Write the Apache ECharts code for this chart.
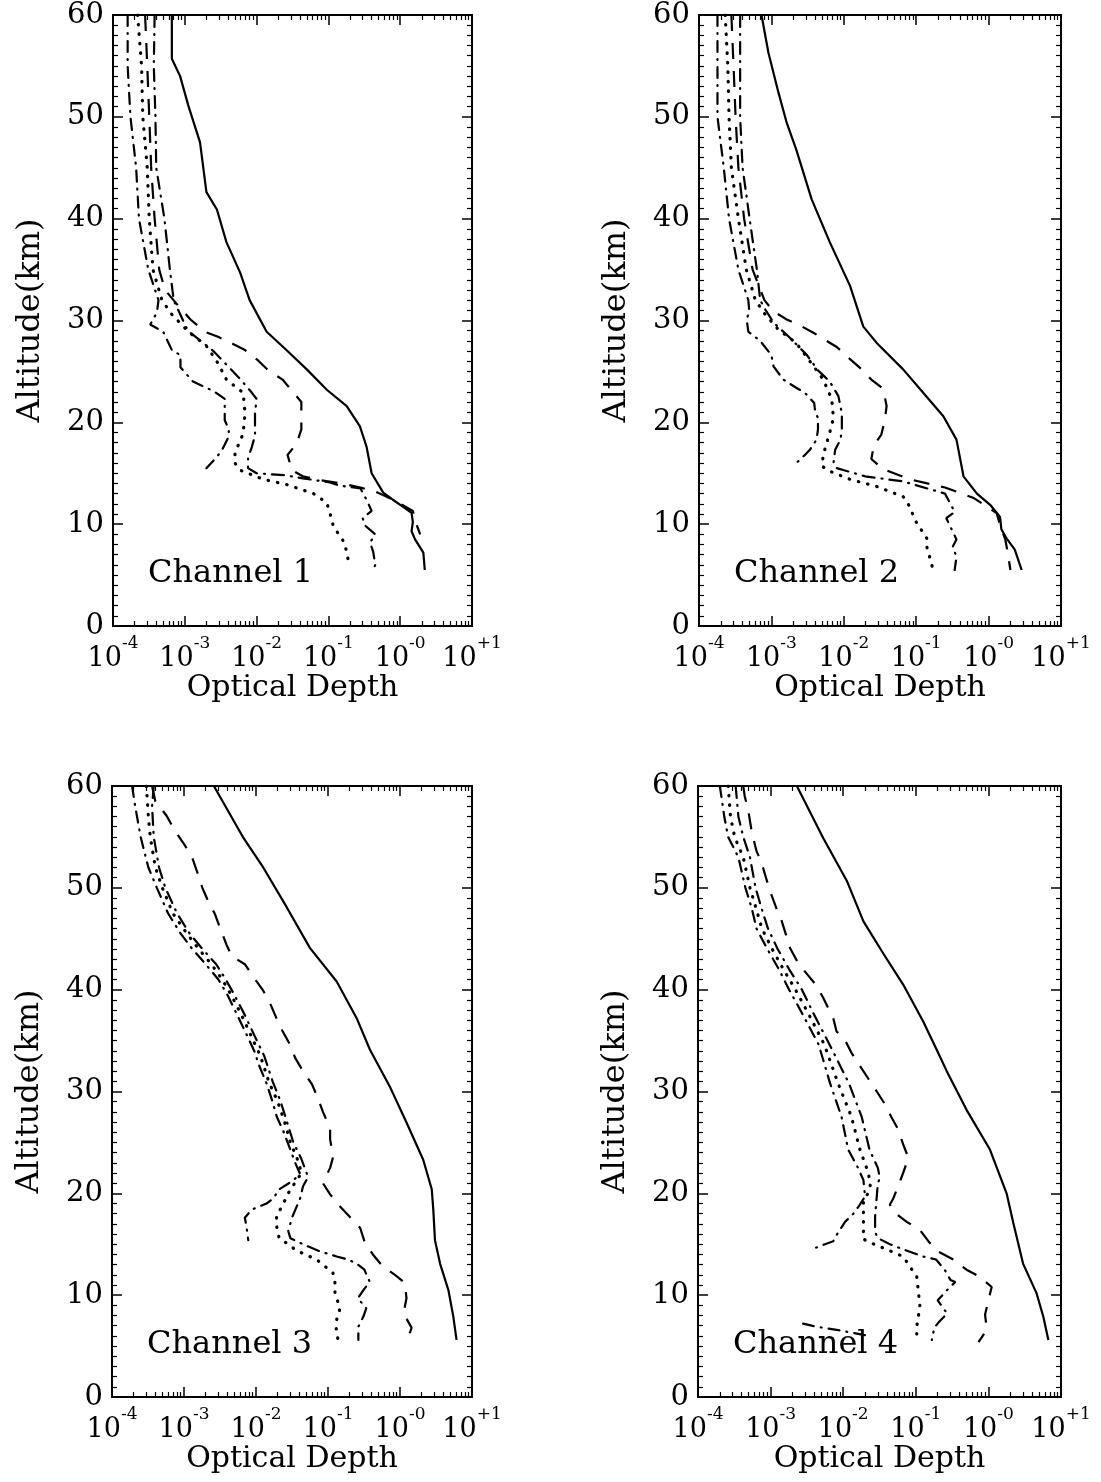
<!DOCTYPE html>
<html>
<head>
<meta charset="utf-8">
<script src="https://cdn.jsdelivr.net/npm/echarts@6/dist/echarts.min.js"></script>
<style>html,body{margin:0;padding:0;background:#fff}#c{width:1101px;height:1482px}</style>
</head>
<body>
<div id="c"></div>
<script>
// ---------------- DATA ([optical depth, altitude km]) ----------------
const channelNames = ['Channel 1', 'Channel 2', 'Channel 3', 'Channel 4'];
const xAxisTitle = 'Optical Depth';
const yAxisTitle = 'Altitude(km)';
const xTickExponents = ['-4', '-3', '-2', '-1', '-0', '+1'];

// Channel 1
const ch1_solid = [[6.6e-4,60],[6.6e-4,55.7],[8.6e-4,54],[1.12e-3,51.1],[1.63e-3,47.5],[2.0e-3,42.6],[2.8e-3,40.9],[3.8e-3,37.7],[5.9e-3,34.7],[8.0e-3,32],[1.38e-2,28.9],[2.6e-2,27.1],[5.0e-2,25.2],[9.5e-2,23.2],[0.18,21.6],[0.275,19.6],[0.34,17.6],[0.40,15],[0.58,13.1],[0.79,12.4],[1.1,11.7],[1.44,11.1],[1.5,10.2],[1.44,9.3],[1.61,8.5],[2.1,7.2],[2.2,5.5]];
const ch1_dash = [[2.8e-4,60],[3.0e-4,55],[3.2e-4,50],[3.4e-4,45],[3.8e-4,40],[4.4e-4,35],[5.3e-4,33],[8e-4,31.5],[1.2e-3,30.1],[1.9e-3,28.9],[2.9e-3,28.4],[4.7e-3,27.7],[6.9e-3,27.1],[1.04e-2,26.1],[1.45e-2,25.1],[2.3e-2,24.2],[3.1e-2,23.1],[4.2e-2,22.0],[4.2e-2,20.7],[4.2e-2,19.3],[3.6e-2,17.9],[2.7e-2,16.8],[3.1e-2,15.3],[4.4e-2,14.7],[8e-2,14.3],[0.15,14.0],[0.28,13.6],[0.45,13.2],[0.65,12.7],[1.06,11.9],[1.5,11.3],[1.6,10.5],[1.7,9.9],[1.9,9.0]];
const ch1_dot = [[2.2e-4,60],[2.5e-4,55],[2.6e-4,50],[3.0e-4,45],[3.2e-4,40],[3.6e-4,35],[4.8e-4,32],[6.6e-4,30.6],[1.12e-3,28.9],[2.0e-3,27.5],[2.9e-3,25.8],[3.8e-3,24.2],[6.5e-3,22.9],[6.9e-3,20.9],[6.5e-3,18.9],[5.0e-3,17.0],[5.0e-3,16.0],[5.9e-3,15.3],[1.24e-2,14.4],[2.6e-2,13.9],[6.2e-2,13.0],[9.5e-2,12.1],[0.105,11.1],[0.117,9.8],[0.17,8.1],[0.18,7.1],[0.2,5.8]];
const ch1_dashdot = [[3.8e-4,60],[3.7e-4,55],[3.9e-4,50],[4.0e-4,45],[5.2e-4,40],[6.2e-4,35],[7.0e-4,32],[1.1e-3,29],[2.5e-3,27],[4.0e-3,25.5],[6.0e-3,24.2],[8.6e-3,22.9],[1.0e-2,22.3],[9.5e-3,20.9],[9.5e-3,18.7],[8.6e-3,17.6],[7.6e-3,16.5],[7.6e-3,15.5],[1.0e-2,15.0],[2.5e-2,14.8],[4.4e-2,14.5],[0.105,14.1],[0.14,13.8],[0.28,13.5],[0.34,12.4],[0.40,11.3],[0.30,10.6],[0.32,9.9],[0.45,9.0],[0.38,8.2],[0.42,7.3],[0.45,6.0],[0.42,5.5]];
const ch1_dashdot2 = [[1.6e-4,60],[1.6e-4,55],[1.75e-4,50],[2.1e-4,45],[2.3e-4,40],[3.1e-4,35],[4.3e-4,32],[4.1e-4,30.8],[3.3e-4,29.6],[5.0e-4,28.9],[6.6e-4,27.1],[8.7e-4,26.6],[8.7e-4,25.4],[1.3e-3,24],[2.0e-3,23.4],[2.6e-3,23],[3.6e-3,22.3],[3.6e-3,20.2],[4.1e-3,19.3],[4.1e-3,18.6],[3.3e-3,17.3],[2.8e-3,16.6],[2.0e-3,15.5]];

// Channel 2
const ch2_solid = [[7.3e-4,60],[9.1e-4,56.3],[1.25e-3,52.4],[1.63e-3,49.4],[2.2e-3,46.8],[3.6e-3,41.9],[6.4e-3,37.7],[1.22e-2,33.4],[1.86e-2,29.4],[2.85e-2,27.8],[6.6e-2,25.2],[0.125,22.9],[0.237,20.6],[0.36,18.3],[0.45,14.7],[0.69,13.0],[1.05,11.9],[1.44,10.7],[1.5,9.5],[1.77,8.6],[2.3,7.5],[2.86,5.5]];
const ch2_dash = [[2.8e-4,60],[3.0e-4,55],[3.2e-4,50],[3.5e-4,45],[4.2e-4,40],[5.5e-4,35],[8e-4,32],[1.07e-3,30.9],[1.63e-3,30.1],[2.5e-3,29.5],[3.8e-3,28.8],[5.8e-3,28.0],[8e-3,27.4],[1.22e-2,26.2],[1.77e-2,25.2],[2.4e-2,24.2],[3.5e-2,23.3],[3.9e-2,21.6],[3.7e-2,20.3],[3.3e-2,18.8],[2.6e-2,17.7],[2.4e-2,16.4],[3.5e-2,15.4],[8.2e-2,14.4],[0.25,13.6],[0.61,12.6],[1.29,11.1],[1.5,9.5],[1.7,8.5],[1.86,7.0],[2.0,5.5]];
const ch2_dot = [[2.3e-4,60],[2.5e-4,55],[2.6e-4,50],[2.8e-4,45],[3.5e-4,40],[4.5e-4,35],[6.0e-4,32],[8.2e-4,30.6],[1.25e-3,29.1],[2.2e-3,27.8],[3.4e-3,26.0],[5.2e-3,24.2],[6.8e-3,22.3],[7.2e-3,20.4],[6.4e-3,19.0],[5.2e-3,16.8],[5.0e-3,15.7],[6.4e-3,15.2],[1.22e-2,14.4],[2.85e-2,13.7],[6.6e-2,12.7],[8.2e-2,11.7],[9.6e-2,10.4],[0.14,8.6],[0.14,7.8],[0.17,5.6]];
const ch2_dashdot = [[3.7e-4,60],[3.7e-4,55],[3.7e-4,50],[4.0e-4,45],[5.0e-4,40],[6.3e-4,35],[7.0e-4,32],[8.2e-4,31.1],[1.07e-3,29.8],[1.8e-3,28.3],[3.1e-3,26.6],[4.4e-3,25.1],[6.4e-3,24.0],[8.4e-3,22.6],[9.4e-3,20.9],[9.4e-3,19.3],[9.0e-3,18.3],[7.6e-3,17.3],[7.2e-3,16.0],[8.0e-3,15.5],[1.96e-2,14.7],[6.6e-2,14.2],[0.25,13.0],[0.34,11.2],[0.26,10.6],[0.36,8.5],[0.32,7.8],[0.36,6.8],[0.34,5.5]];
const ch2_dashdot2 = [[1.8e-4,60],[1.8e-4,55],[1.8e-4,50],[2.2e-4,45],[2.6e-4,40],[3.5e-4,35],[4.8e-4,32],[4.95e-4,30.9],[4.56e-4,30.1],[4.8e-4,28.9],[7.0e-4,28.0],[1.0e-3,26.6],[1.07e-3,25.5],[1.46e-3,24.2],[2.2e-3,23.4],[2.9e-3,22.9],[3.9e-3,21.9],[4.0e-3,21.2],[4.4e-3,20.4],[4.4e-3,19.3],[4.2e-3,18.3],[3.4e-3,17.3],[2.9e-3,16.8],[2.0e-3,15.7]];

// Channel 3
const ch3_solid = [[2.6e-3,60],[6.7e-3,54.9],[1.26e-2,52],[2.67e-2,48.1],[5.6e-2,44.1],[0.132,40.8],[0.25,37.2],[0.383,34.1],[0.72,30.5],[1.24,26.9],[2.1,23.3],[2.76,20.4],[2.9,18.4],[3.06,15.4],[3.6,13.1],[4.7,10.5],[5.5,7.9],[6.1,5.6]];
const ch3_dash = [[3.6e-4,60],[4e-4,58.5],[5.7e-4,57.1],[7.5e-4,55.6],[9.8e-4,54.4],[1.28e-3,53.1],[1.5e-3,51.7],[1.8e-3,50.0],[2.1e-3,48.9],[2.7e-3,47.4],[3.15e-3,46.1],[3.9e-3,44.4],[4.6e-3,43.3],[7e-3,42.5],[9.1e-3,41.3],[1.26e-2,39.9],[1.56e-2,38.7],[1.95e-2,37.1],[2.27e-2,36.1],[2.97e-2,34.6],[3.5e-2,33.3],[4.5e-2,32.0],[6e-2,30.7],[7.2e-2,29.4],[8.5e-2,28],[0.107,26.4],[0.107,25.3],[0.118,23.6],[0.107,22.5],[8.5e-2,21],[0.107,19.9],[0.147,18.7],[0.2,17.7],[0.28,16.6],[0.32,15.3],[0.42,14],[0.58,12.8],[0.85,12],[1.17,11.2],[1.23,9.7],[1.12,8.2],[1.45,6.8],[1.24,5.4]];
const ch3_dot = [[3.0e-4,60],[3.2e-4,57],[3.4e-4,55],[4e-4,52],[5e-4,50],[7e-4,47.5],[1.1e-3,45.5],[1.6e-3,44],[2.4e-3,42.5],[3.4e-3,41],[4.5e-3,39.5],[6.3e-3,37.5],[8.5e-3,35.5],[1.15e-2,33.5],[1.5e-2,31],[2e-2,29],[2.5e-2,27],[3e-2,25],[3.7e-2,23.5],[4.3e-2,22],[3.6e-2,21.2],[2.8e-2,20],[2.3e-2,18.7],[1.95e-2,17.9],[1.9e-2,17.1],[2e-2,16.2],[2.1e-2,15.6],[2.8e-2,15],[3.6e-2,14.4],[6.9e-2,13.5],[0.117,12.2],[0.125,11.2],[0.125,10.2],[0.147,8.7],[0.132,7.6],[0.13,6.6],[0.138,5.6]];
const ch3_dashdot = [[3.8e-4,60],[3.6e-4,58],[3.8e-4,55],[4.5e-4,52],[5.5e-4,50],[8e-4,47.5],[1.2e-3,45.5],[1.8e-3,44],[2.8e-3,42.5],[3.8e-3,41],[5e-3,39.5],[7e-3,37.5],[9.5e-3,35.5],[1.3e-2,33.5],[1.7e-2,31],[2.2e-2,29],[2.7e-2,27],[3.3e-2,25],[4.2e-2,23.5],[5.3e-2,21.6],[4.5e-2,20.7],[4.1e-2,19.5],[3.2e-2,17.7],[2.8e-2,16.3],[3e-2,15.6],[4.5e-2,15],[7.7e-2,14.3],[0.132,13.8],[0.19,13.5],[0.25,13.1],[0.32,12.5],[0.38,11.3],[0.31,10.5],[0.26,9.7],[0.34,8.7],[0.31,7.9],[0.264,6.9],[0.264,5.6]];
const ch3_dashdot2 = [[1.9e-4,60],[2.1e-4,58],[2.5e-4,55],[3.2e-4,52],[4.2e-4,50],[6e-4,47.5],[9e-4,45.5],[1.3e-3,44],[2e-3,42.5],[3e-3,41],[4e-3,39.5],[5.5e-3,37.5],[7.5e-3,35.5],[9.7e-3,33.8],[1.07e-2,32.8],[1.4e-2,30.8],[1.66e-2,29.2],[1.95e-2,27.5],[2.4e-2,26.1],[3e-2,24.3],[3.5e-2,23],[4.1e-2,21.9],[3.2e-2,21.2],[2.1e-2,20.4],[1.74e-2,19.5],[1.4e-2,19],[8.7e-3,18.4],[7e-3,17.6],[7.4e-3,16.7],[7.8e-3,15.4]];

// Channel 4
const ch4_solid = [[2.3e-3,60],[5.3e-3,54.9],[1.12e-2,50.7],[1.9e-2,46.7],[3.6e-2,43.5],[6.7e-2,40.5],[0.126,36.9],[0.194,34.1],[0.267,32],[0.5,28.2],[1.05,24.3],[1.78,20],[2.2,17.1],[3.0,13.1],[4.6,10.2],[5.7,7.9],[6.7,5.6]];
const ch4_dash = [[4.2e-4,60],[4.4e-4,59],[4.9e-4,57.7],[5.5e-4,55.5],[6.4e-4,53.6],[7.5e-4,52.5],[8.8e-4,50.8],[9.8e-4,49.7],[1.2e-3,48],[1.4e-3,46.9],[1.66e-3,45.2],[1.85e-3,44.1],[2.4e-3,42.6],[3.2e-3,41.5],[4.3e-3,40.4],[5.3e-3,39.2],[7.3e-3,37.2],[8.1e-3,35.9],[1.05e-2,35.1],[1.3e-2,33.8],[1.7e-2,32.5],[2.2e-2,31.3],[2.9e-2,30],[3.8e-2,28.7],[4.6e-2,27.5],[5.7e-2,26.3],[6.7e-2,24.8],[7.9e-2,23.5],[6.7e-2,22],[5.7e-2,20.7],[4.9e-2,19.5],[4.4e-2,18.9],[4.9e-2,18.2],[7.5e-2,17.2],[0.114,16.4],[0.149,15.3],[0.2,14.3],[0.33,13.5],[0.5,12.5],[0.76,11.8],[1.11,10.8],[1.0,9.5],[0.9,8.1],[0.95,6.6],[0.73,5.4]];
const ch4_dot = [[2.6e-4,60],[2.8e-4,57],[3.2e-4,55],[4.2e-4,53],[5.2e-4,50],[6.3e-4,48],[7.6e-4,46],[1.05e-3,44],[1.5e-3,42],[2.2e-3,40],[3.4e-3,37.5],[5.5e-3,34.6],[8.5e-3,30.8],[1.3e-2,27.5],[1.7e-2,24.3],[2.1e-2,22.5],[2.4e-2,21],[2.2e-2,20],[1.9e-2,19.3],[1.9e-2,17.5],[1.9e-2,15.5],[2.47e-2,15.1],[4.6e-2,14.3],[6.7e-2,13.8],[8.3e-2,12.8],[0.103,11.8],[0.108,10.5],[0.114,8.9],[0.103,6.9],[0.103,5.6]];
const ch4_dashdot = [[3.3e-4,60],[3.6e-4,57],[4.2e-4,55],[5.2e-4,53],[6.2e-4,50],[7.5e-4,48],[9.2e-4,46],[1.25e-3,44],[1.8e-3,42],[2.7e-3,40],[4e-3,37.5],[6.5e-3,34.6],[1.2e-2,30.8],[1.8e-2,27.5],[2.3e-2,24.3],[3e-2,22.5],[3.2e-2,21.5],[3e-2,21],[2.9e-2,19.7],[2.75e-2,17.7],[2.75e-2,16.2],[3e-2,15.6],[4.4e-2,15],[6.7e-2,14.5],[0.126,13.8],[0.19,13.5],[0.25,12.5],[0.3,11.5],[0.35,11.3],[0.27,10.5],[0.2,9.5],[0.27,8.2],[0.21,7.4],[0.18,6.8],[0.166,5.6]];
const ch4_dashdot2 = [[2.0e-4,60],[2.3e-4,57],[2.6e-4,55],[3.6e-4,53],[4.5e-4,50],[5.5e-4,48],[6.4e-4,46],[9e-4,44],[1.3e-3,42],[1.8e-3,40],[2.8e-3,37.5],[4.6e-3,34.6],[6.6e-3,30.8],[9.5e-3,27.5],[1.17e-2,24.3],[1.6e-2,22.5],[1.9e-2,21.3],[2e-2,19.7],[1.7e-2,18.9],[1.38e-2,18],[1.06e-2,17.2],[8.1e-3,15.9],[7.3e-3,15.3],[5.6e-3,15],[3.7e-3,14.5]];
const ch4_dashdot2_low = [[2.8e-3,7.2],[4.3e-3,6.9],[8.1e-3,6.6],[1.9e-2,6.1],[2.4e-2,6.0]];

const panels = [
  {solid: ch1_solid, dash: ch1_dash, dot: ch1_dot, dashdot: ch1_dashdot, dashdot2: [ch1_dashdot2]},
  {solid: ch2_solid, dash: ch2_dash, dot: ch2_dot, dashdot: ch2_dashdot, dashdot2: [ch2_dashdot2]},
  {solid: ch3_solid, dash: ch3_dash, dot: ch3_dot, dashdot: ch3_dashdot, dashdot2: [ch3_dashdot2]},
  {solid: ch4_solid, dash: ch4_dash, dot: ch4_dot, dashdot: ch4_dashdot, dashdot2: [ch4_dashdot2, ch4_dashdot2_low]}
];

// ---------------- LAYOUT / STYLE ----------------
const FONT = 'DejaVu Serif';
const gridBoxes = [
  {left: 113, top: 15, width: 359, height: 611},
  {left: 699, top: 15, width: 362, height: 611},
  {left: 112, top: 786, width: 360, height: 611},
  {left: 698, top: 786, width: 363, height: 611}
];
const styles = {
  solid:    {type: 'solid', width: 2.2, cap: 'butt'},
  dash:     {type: [16, 12], width: 2.2, cap: 'butt'},
  dot:      {type: [0.5, 9], width: 3.2, cap: 'round'},
  dashdot:  {type: [12, 7, 1, 7], width: 2.2, cap: 'round'},
  dashdot2: {type: [11, 7, 1, 7], width: 2.2, cap: 'round'}
};

const grid = [], xAxis = [], yAxis = [], series = [], graphic = [];
gridBoxes.forEach(function (g, i) {
  grid.push(Object.assign({show: true, borderColor: '#000', borderWidth: 2, backgroundColor: 'transparent', outerBoundsMode: 'none', containLabel: false}, g));
  const axLine = {show: true, onZero: false, lineStyle: {color: '#000', width: 2}};
  const xBase = {
    gridIndex: i, type: 'log', logBase: 10, min: 1e-4, max: 10,
    axisLine: axLine,
    axisTick: {show: true, inside: true, length: 10, lineStyle: {color: '#000', width: 1.5}},
    minorTick: {show: true, splitNumber: 9, length: 5, lineStyle: {color: '#000', width: 1.2}},
    splitLine: {show: false}, minorSplitLine: {show: false}
  };
  xAxis.push(Object.assign({}, xBase, {
    position: 'bottom',
    axisLabel: {
      show: true, margin: 9, showMinLabel: true, showMaxLabel: true,
      formatter: function (v) {
        const e = Math.round(Math.log10(v));
        return '{b|10}{s|' + xTickExponents[e + 4] + '}';
      },
      rich: {
        b: {fontFamily: FONT, fontSize: 27, lineHeight: 48, color: '#000'},
        s: {fontFamily: FONT, fontSize: 17, lineHeight: 17, verticalAlign: 'top', color: '#000'}
      }
    },
    name: xAxisTitle, nameLocation: 'middle', nameGap: 44,
    nameTextStyle: {fontFamily: FONT, fontSize: 30, color: '#000'}
  }));
  xAxis.push(Object.assign({}, xBase, {position: 'top', axisLabel: {show: false}}));
  const yBase = {
    gridIndex: i, type: 'value', min: 0, max: 60, interval: 10,
    axisLine: axLine,
    axisTick: {show: true, inside: true, length: 10, lineStyle: {color: '#000', width: 1.5}},
    minorTick: {show: true, splitNumber: 10, length: 5, lineStyle: {color: '#000', width: 1.2}},
    splitLine: {show: false}, minorSplitLine: {show: false}
  };
  yAxis.push(Object.assign({}, yBase, {
    position: 'left',
    axisLabel: {show: true, margin: 9, fontFamily: FONT, fontSize: 29, color: '#000', showMinLabel: true, showMaxLabel: true},
    name: yAxisTitle, nameLocation: 'middle', nameGap: 66,
    nameTextStyle: {fontFamily: FONT, fontSize: 32, color: '#000'}
  }));
  yAxis.push(Object.assign({}, yBase, {position: 'right', axisLabel: {show: false}}));

  const p = panels[i];
  ['solid', 'dash', 'dot', 'dashdot'].forEach(function (k) {
    series.push({type: 'line', xAxisIndex: 2 * i, yAxisIndex: 2 * i, data: p[k], showSymbol: false, symbol: 'none',
      lineStyle: Object.assign({color: '#000'}, styles[k]), silent: true, z: 3});
  });
  p.dashdot2.forEach(function (d) {
    series.push({type: 'line', xAxisIndex: 2 * i, yAxisIndex: 2 * i, data: d, showSymbol: false, symbol: 'none',
      lineStyle: Object.assign({color: '#000'}, styles.dashdot2), silent: true, z: 3});
  });

  graphic.push({type: 'text', left: g.left + 35, top: g.top + g.height - 68,
    style: {text: channelNames[i], font: '32px "' + FONT + '"', fill: '#000'}, z: 10});
});

const chart = echarts.init(document.getElementById('c'), null, {renderer: 'canvas'});
chart.setOption({
  backgroundColor: '#fff',
  animation: false,
  grid: grid, xAxis: xAxis, yAxis: yAxis, series: series, graphic: graphic
});
</script>
</body>
</html>
